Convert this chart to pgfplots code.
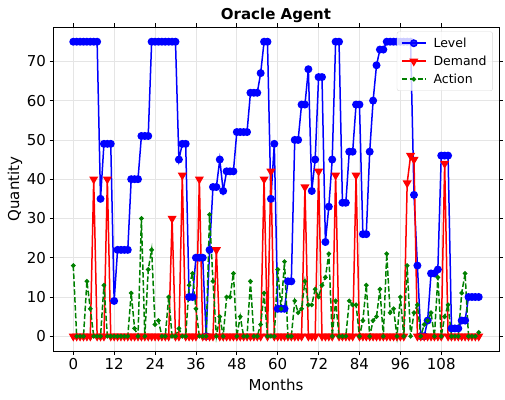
\documentclass[border=0pt]{standalone}
\usepackage{fontspec}
\setmainfont{DejaVu Sans}
\usepackage{pgfplots}
\usepackage{pgfplotstable}
\pgfplotsset{compat=1.18}
\definecolor{mplblue}{HTML}{0000FF}
\definecolor{mplred}{HTML}{FF0000}
\definecolor{mplgreen}{HTML}{008000}

% month, inventory level, demand, order action
\pgfplotstableread{
month level demand action
0 75 0 18
1 75 0 0
2 75 0 0
3 75 0 0
4 75 0 14
5 75 0 7
6 75 40 0
7 75 0 0
8 35 0 0
9 49 0 13
10 49 40 0
11 49 0 0
12 9 0 0
13 22 0 0
14 22 0 0
15 22 0 0
16 22 0 0
17 40 0 11
18 40 0 2
19 40 0 0
20 51 0 30
21 51 0 0
22 51 0 17
23 75 0 22
24 75 0 3
25 75 0 4
26 75 0 0
27 75 0 0
28 75 0 10
29 75 30 0
30 75 0 0
31 45 0 2
32 49 41 0
33 49 0 0
34 10 0 13
35 10 0 16
36 20 0 7
37 20 40 0
38 20 0 0
39 0 0 0
40 22 0 31
41 38 0 14
42 38 22 0
43 45 0 5
44 37 0 0
45 42 0 10
46 42 0 10
47 42 0 16
48 52 0 0
49 52 0 5
50 52 0 0
51 52 0 0
52 62 0 14
53 62 0 0
54 62 0 0
55 67 0 3
56 75 40 11
57 75 0 0
58 35 42 0
59 49 0 0
60 7 0 17
61 7 0 7
62 7 0 19
63 14 0 0
64 14 0 0
65 50 0 9
66 50 0 6
67 59 0 7
68 59 38 14
69 68 0 8
70 37 0 8
71 45 0 12
72 66 42 10
73 66 0 13
74 24 0 15
75 33 0 21
76 45 0 0
77 75 41 9
78 75 0 0
79 34 0 0
80 34 0 0
81 47 0 9
82 47 0 8
83 59 41 8
84 59 0 0
85 26 0 4
86 26 0 13
87 47 0 0
88 60 0 4
89 69 0 5
90 73 0 12
91 73 0 0
92 75 0 21
93 75 0 6
94 75 0 7
95 75 0 0
96 75 0 10
97 75 0 0
98 75 39 18
99 75 46 0
100 36 45 6
101 18 0 8
102 0 0 0
103 0 0 3
104 4 0 4
105 16 0 6
106 16 0 0
107 17 0 15
108 46 0 0
109 46 44 5
110 46 0 8
111 2 0 0
112 2 0 0
113 2 0 0
114 4 0 11
115 4 0 16
116 10 0 0
117 10 0 0
118 10 0 0
119 10 0 1
}\simdata

\begin{document}
\begin{tikzpicture}
\begin{axis}[
  scale only axis, width=446pt, height=324pt,
  xmin=-5.95, xmax=124.95, ymin=-3.75, ymax=78.75,
  xtick={0,12,...,108}, ytick={0,10,...,70},
  grid=major, grid style={line width=0.8pt, draw=black!10},
  tick align=outside, major tick length=3.5pt,
  tick style={black, line width=0.8pt},
  axis line style={line width=0.8pt},
  ticklabel style={font=\fontsize{15}{18}\selectfont},
  /pgf/number format/assume math mode=true,
  title={Oracle Agent},
  title style={font=\fontsize{15}{18}\selectfont\bfseries, at={(axis description cs:0.5,1.018)}, anchor=center, yshift=0pt},
  xlabel={Months}, ylabel={Quantity},
  xlabel style={font=\fontsize{15}{18}\selectfont, at={(axis description cs:0.5,-0.105)}, anchor=center},
  ylabel style={font=\fontsize{15}{18}\selectfont, at={(axis description cs:-0.085,0.5)}, anchor=center},
  legend style={at={(axis description cs:0.986,0.986)}, anchor=north east,
    draw=black!15, rounded corners=2pt, fill=white, fill opacity=0.8, text opacity=1,
    font=\fontsize{12.5}{15}\selectfont, row sep=3pt, column sep=5pt, inner sep=4pt,
    cells={anchor=west}},
  legend image code/.code={\draw[mark repeat=2,mark phase=2] plot coordinates {(0pt,0pt)(12pt,0pt)(24pt,0pt)};},
]
\addplot[mplblue, line width=1.5pt, mark=*, mark size=3.2pt, mark options={solid, fill=mplblue}]
  table[x=month, y=level] {\simdata};
\addplot[mplred, line width=1.5pt, mark=triangle*, mark size=3.8pt, mark options={solid, fill=mplred, rotate=180}]
  table[x=month, y=demand] {\simdata};
\addplot[mplgreen, line width=1.5pt, dash pattern=on 5.5pt off 2.4pt, mark=*, mark size=1.5pt, mark options={solid, fill=mplgreen}]
  table[x=month, y=action] {\simdata};
\legend{Level, Demand, Action}
\end{axis}
\pgfresetboundingbox
\path ([shift={(-53pt,-48pt)}]current axis.south west) rectangle ([shift={(6pt,27pt)}]current axis.north east);
\end{tikzpicture}
\end{document}
